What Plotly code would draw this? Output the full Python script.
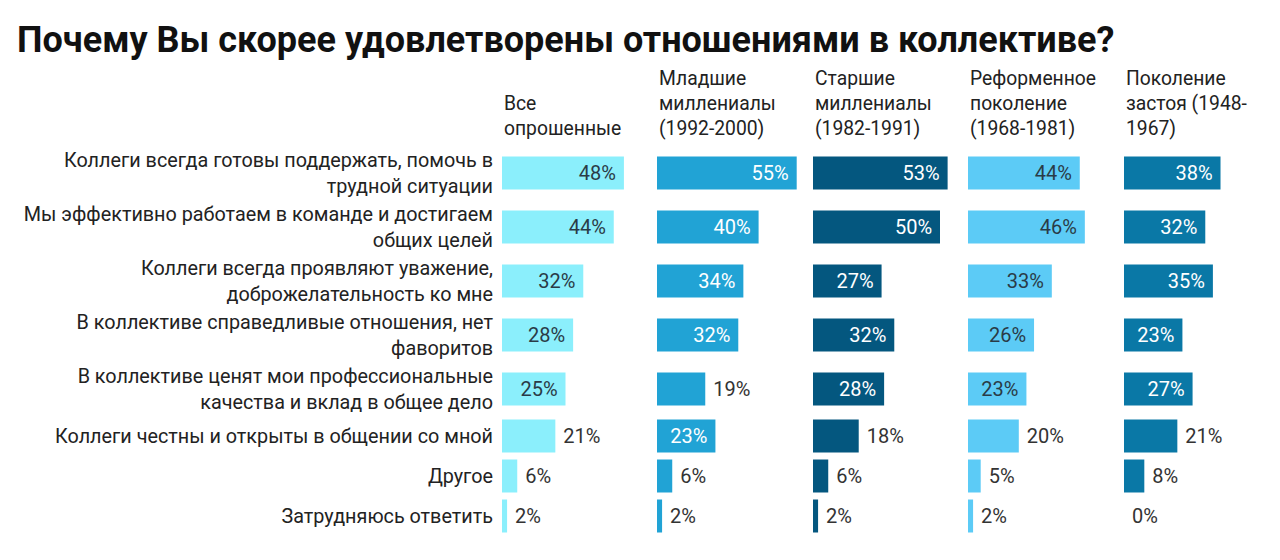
"""Почему Вы скорее удовлетворены отношениями в коллективе — горизонтальные бары по поколениям."""

import plotly.graph_objects as go

# данные
reasons = [
    "Коллеги всегда готовы поддержать, помочь в<br>трудной ситуации",
    "Мы эффективно работаем в команде и достигаем<br>общих целей",
    "Коллеги всегда проявляют уважение,<br>доброжелательность ко мне",
    "В коллективе справедливые отношения, нет<br>фаворитов",
    "В коллективе ценят мои профессиональные<br>качества и вклад в общее дело",
    "Коллеги честны и открыты в общении со мной",
    "Другое",
    "Затрудняюсь ответить",
]
groups = [
    "Все<br>опрошенные",
    "Младшие<br>миллениалы<br>(1992-2000)",
    "Старшие<br>миллениалы<br>(1982-1991)",
    "Реформенное<br>поколение<br>(1968-1981)",
    "Поколение<br>застоя (1948-<br>1967)",
]
all_resp = [48, 44, 32, 28, 25, 21, 6, 2]
young_mill = [55, 40, 34, 32, 19, 23, 6, 2]
old_mill = [53, 50, 27, 32, 28, 18, 6, 2]
reform = [44, 46, 33, 26, 23, 20, 5, 2]
stagnation = [38, 32, 35, 23, 27, 21, 8, 0]
series = [all_resp, young_mill, old_mill, reform, stagnation]

# оформление
bar_colors = ["#8BEFFC", "#21A3D5", "#04577F", "#5CCBF6", "#0A78A6"]
inside_text_colors = ["#2A3B47", "#FFFFFF", "#FFFFFF", "#2A3B47", "#FFFFFF"]
outside_color = "#333333"
FONT = "Roboto"
# страница html имеет отступ 8px, поэтому фигура чуть меньше окна
OFF = 8
W, H = 1280 - 2 * OFF, 560 - 2 * OFF
PX_PER_PCT = 2.54
panel_left = [502 - OFF, 657 - OFF, 813 - OFF, 968 - OFF, 1124 - OFF]
panel_w = 140
first_row_px = 173 - OFF
row_pitch = {1: 40, 2: 54}
INSIDE_MIN = 22
NB = "\u00a0"

# позиции строк по числу строк подписи
y_pos = []
prev_h = None
cur = 0.0
for r in reasons:
    h = row_pitch[r.count("<br>") + 1]
    if prev_h is not None:
        cur += (prev_h + h) / 2
    y_pos.append(cur)
    prev_h = h

fig = go.Figure()

for i, vals in enumerate(series):
    ax = "" if i == 0 else str(i + 1)
    texts, positions, colors = [], [], []
    for v in vals:
        if v >= INSIDE_MIN:
            texts.append(f"{v}%{NB}")
            positions.append("inside")
            colors.append(inside_text_colors[i])
        else:
            texts.append(f"{NB}{v}%")
            positions.append("outside")
            colors.append(outside_color)
    fig.add_trace(
        go.Bar(
            x=vals,
            y=y_pos,
            orientation="h",
            width=33,
            marker=dict(color=bar_colors[i], line=dict(width=0)),
            text=texts,
            textposition=positions,
            insidetextanchor="end",
            textfont=dict(family=FONT, size=20, color=colors),
            cliponaxis=False,
            hoverinfo="skip",
            xaxis="x" + ax,
            yaxis="y" + ax,
            showlegend=False,
        )
    )

    x0 = panel_left[i] / W
    x1 = (panel_left[i] + panel_w) / W
    fig.update_layout(
        {
            f"xaxis{ax}": dict(
                domain=[x0, x1],
                range=[0, panel_w / PX_PER_PCT],
                visible=False,
                fixedrange=True,
            ),
            f"yaxis{ax}": dict(
                domain=[0, 1],
                range=[H - first_row_px, -first_row_px],
                anchor="x" + ax,
                tickvals=y_pos if i == 0 else [],
                ticktext=reasons if i == 0 else [],
                showticklabels=(i == 0),
                ticklabelstandoff=8,
                tickfont=dict(family=FONT, size=19.8, color="#222222"),
                showgrid=False,
                zeroline=False,
                showline=False,
                ticks="",
                fixedrange=True,
            ),
        }
    )

    # заголовок колонки
    fig.add_annotation(
        x=x0,
        y=1 - (142 - OFF) / H,
        xref="paper",
        yref="paper",
        xanchor="left",
        yanchor="bottom",
        align="left",
        text=groups[i],
        showarrow=False,
        font=dict(family=FONT, size=19.3, color="#222222"),
    )

fig.update_layout(
    title=dict(
        text="<b>Почему Вы скорее удовлетворены отношениями в коллективе?</b>",
        x=(17 - OFF) / W,
        xanchor="left",
        xref="container",
        y=1 - (39 - OFF) / H,
        yref="container",
        yanchor="middle",
        font=dict(family=FONT, size=36, color="#111111"),
    ),
    width=W,
    height=H,
    margin=dict(l=0, r=0, t=0, b=0),
    paper_bgcolor="white",
    plot_bgcolor="white",
    barmode="overlay",
)

fig.write_html("out.html")
